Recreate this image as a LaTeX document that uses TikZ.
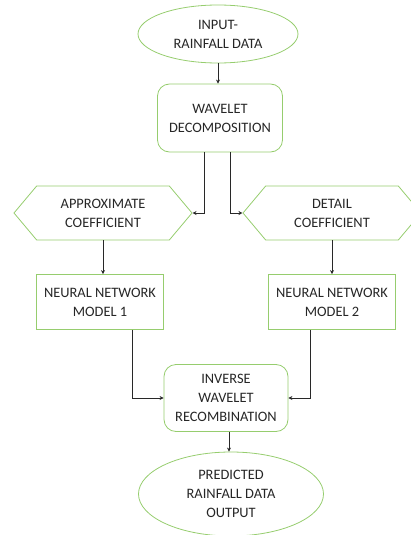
\documentclass[tikz,border=0pt]{standalone}
\usepackage{fontspec}
\setmainfont{Carlito}
\usepackage{tikz}
\usetikzlibrary{shapes.geometric}
\usetikzlibrary{shapes.symbols}
\usetikzlibrary{arrows.meta}
\definecolor{boxgreen}{RGB}{150,205,110}
\definecolor{linegray}{RGB}{40,40,40}

\begin{document}
\begin{tikzpicture}[x=1pt, y=-1pt,
  every node/.style={align=center, font=\fontsize{14.4}{19}\selectfont, text=black!85, inner sep=0pt},
  term/.style={ellipse, draw=boxgreen, line width=0.8pt},
  proc/.style={rectangle, rounded corners=12pt, draw=boxgreen, line width=0.8pt, minimum width=125pt, minimum height=68pt},
  coef/.style={signal, signal to=west and east, signal pointer angle=100, draw=boxgreen, line width=0.8pt, minimum width=178pt, minimum height=54pt},
  model/.style={rectangle, draw=boxgreen, line width=0.8pt, minimum width=127pt, minimum height=55pt},
  conn/.style={draw=linegray, line width=0.7pt, ->, >={Stealth[length=4pt,width=4pt]}}]
  \useasboundingbox (0,0) rectangle (411,535);

  \node[term, minimum width=160pt, minimum height=58pt] (inp) at (218,34) {INPUT-\\RAINFALL DATA};
  \node[proc] (wd) at (220,118) {WAVELET\\DECOMPOSITION};
  \node[coef] (apx) at (103,213) {APPROXIMATE\\COEFFICIENT};
  \node[coef] (det) at (332,213) {DETAIL\\COEFFICIENT};
  \node[model] (nn1) at (100,302) {NEURAL NETWORK\\MODEL 1};
  \node[model] (nn2) at (332,302) {NEURAL NETWORK\\MODEL 2};
  \node[proc, minimum width=124pt, minimum height=67pt] (inv) at (226,398) {INVERSE\\WAVELET\\RECOMBINATION};
  \node[term, minimum width=185pt, minimum height=84pt] (out) at (231,494) {PREDICTED\\RAINFALL DATA\\OUTPUT};

  \draw[conn] (inp.south) -- (inp.south |- wd.north);
  \draw[conn] ([xshift=-16pt]wd.south) |- (apx.east);
  \draw[conn] ([xshift=10pt]wd.south) |- (det.west);
  \draw[conn] (apx.south) -- (apx.south |- nn1.north);
  \draw[conn] (det.south) -- (det.south |- nn2.north);
  \draw[conn] ([xshift=32pt]nn1.south) |- (inv.west);
  \draw[conn] ([xshift=-22pt]nn2.south) |- (inv.east);
  \draw[conn] ([xshift=3pt]inv.south) -- ([xshift=3pt]inv.south |- out.north);
\end{tikzpicture}
\end{document}
